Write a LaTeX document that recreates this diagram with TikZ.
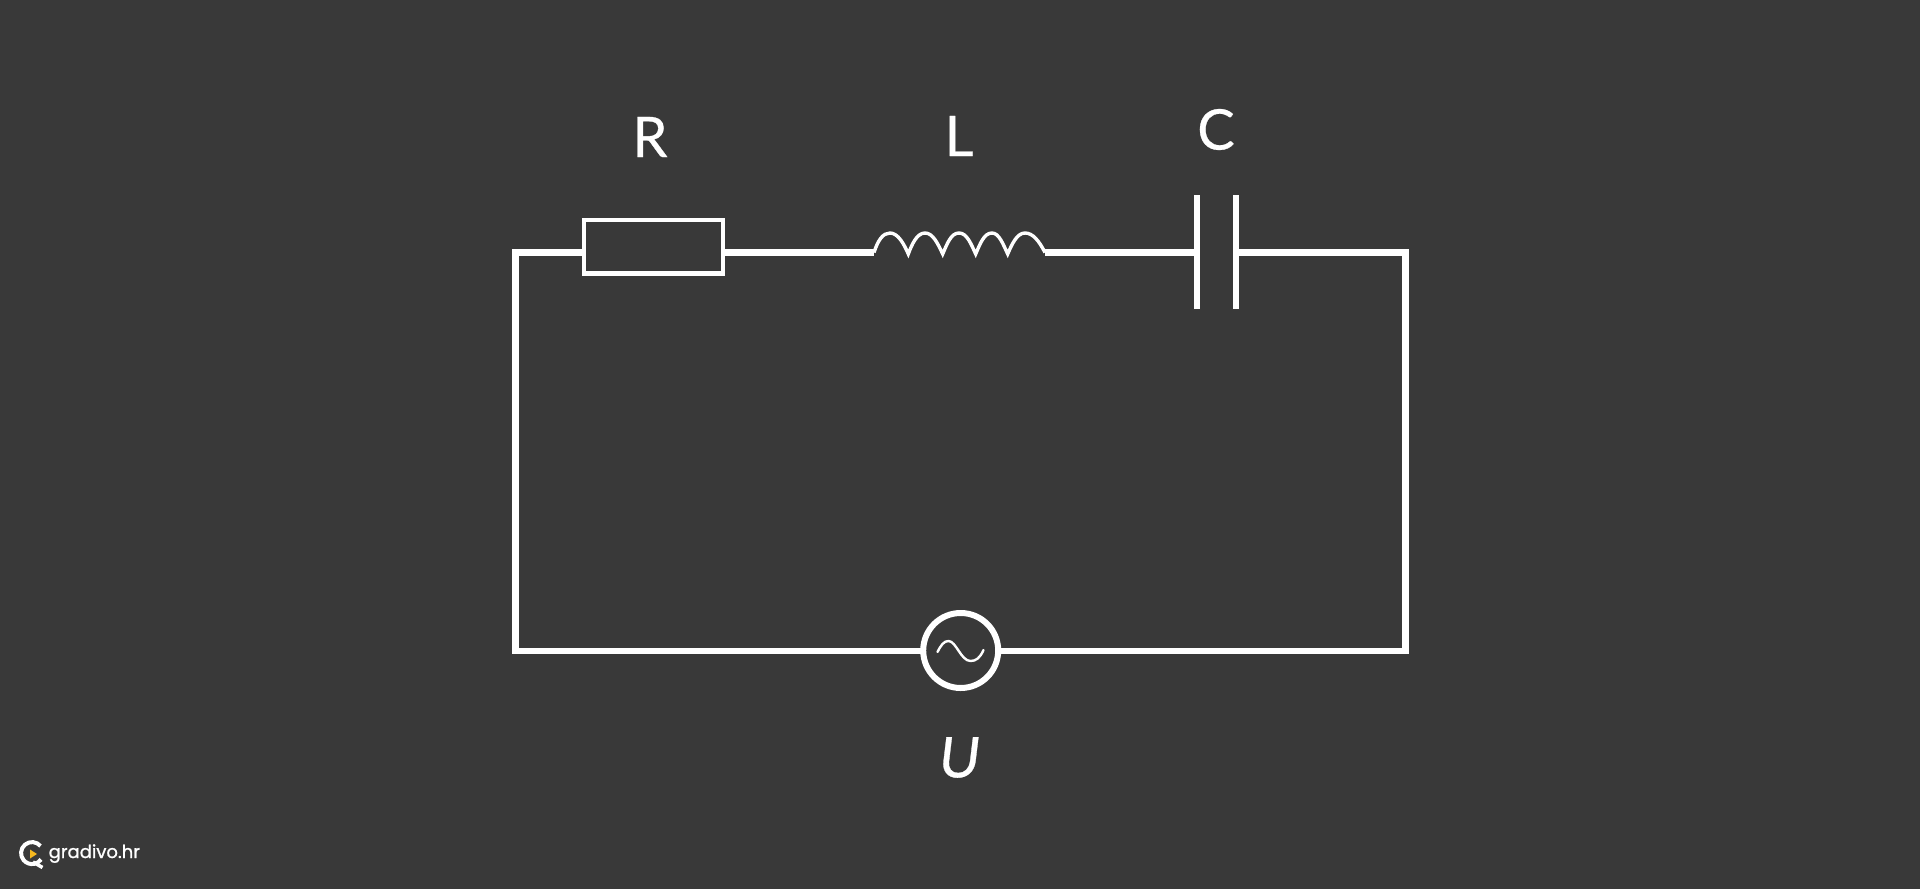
\documentclass[tikz,border=0pt]{standalone}
\usepackage{fontspec}
\newfontfamily\lab[FakeBold=0.5]{Lato}
\newfontfamily\logo[FakeBold=1.1]{Poppins}
\definecolor{bg}{HTML}{393939}
\definecolor{logoy}{HTML}{F5B81F}
\tikzset{
  wire/.style={draw=white,line width=6.3pt,miter limit=10},
  resbox/.style={draw=white,line width=4.4pt,rectangle,minimum width=139pt,minimum height=53.5pt,inner sep=0pt,outer sep=0pt},
  plate/.style={fill=white,rectangle,minimum width=6pt,minimum height=113.5pt,inner sep=0pt,outer sep=0pt},
  srccircle/.style={draw=white,line width=6pt,circle,minimum size=75pt,inner sep=0pt,outer sep=0pt},
  letter/.style={text=white,inner sep=0pt,outer sep=0pt,font=\lab\fontsize{56}{60}\selectfont},
  coil/.style={draw=white,line width=3.4pt,miter limit=10},
  sine/.style={draw=white,line width=2.4pt,line cap=round},
}
\begin{document}
\begin{tikzpicture}[x=1pt,y=-1pt]
\fill[bg] (0,0) rectangle (1920,889);
\useasboundingbox (0,0) rectangle (1920,889);
% corners and end points
\coordinate (tl) at (515.5,252.5);
\coordinate (tr) at (1405.5,252.5);
\coordinate (bl) at (515.5,651);
\coordinate (br) at (1405.5,651);
\coordinate (ls) at (874,252.5);
\coordinate (le) at (1045,252.5);
% components
\node[resbox] (res) at (653.5,246.7) {};
\node[plate] (c1) at (1197,252) {};
\node[plate] (c2) at (1236,252) {};
\node[srccircle] (src) at (960.7,650.5) {};
% coil
\draw[coil] (ls) .. controls (878,240) and (883,233) .. (890,233)
  .. controls (898,233) and (904,244) .. (908.3,254)
  .. controls (912,244) and (917,233) .. (925,233)
  .. controls (933,233) and (938,244) .. (942.7,254)
  .. controls (947,244) and (951,233) .. (959,233)
  .. controls (967,233) and (971,244) .. (975.7,254)
  .. controls (980,244) and (984,233) .. (992,233)
  .. controls (999,233) and (1003,244) .. (1007.7,254)
  .. controls (1012,244) and (1017,233) .. (1025,233)
  .. controls (1033,233) and (1039,241) .. (le);
% wires
\draw[wire] (tl -| res.west) -- (tl) -- (bl) -- (bl -| src.west);
\draw[wire] (tl -| res.east) -- (ls);
\draw[wire] (le) -- (tl -| c1.west);
\draw[wire] (tl -| c2.east) -- (tr) -- (br) -- (br -| src.east);
% sine inside source
\draw[sine] (937.5,652) .. controls (941,645) and (944,641) .. (948.5,641)
  .. controls (956,641) and (961,661) .. (970.5,661)
  .. controls (976,661) and (980,658) .. (983.5,650);
% labels
\node[letter] (lr) at (650,137) {R};
\node[letter] (ll) at (959,136) {L};
\node[letter] (lc) at (1216,129.5) {C};
\node[letter,xslant=0.12] (lu) at (960,757.5) {U};
% logo
\draw[white,line width=4pt] (40.5,846) arc[start angle=-40,end angle=-325,radius=11] coordinate (lg1);
\draw[white,line width=3.5pt] (33,862) coordinate (lg2) -- (42.5,867.5);
\fill[logoy] (30,849.5) -- (37,854) -- (30,858.5) -- cycle;
\node[text=white,anchor=base west,inner sep=0pt,font=\logo\fontsize{18}{22}\selectfont] (brand) at (48.5,858) {gradivo.hr};
\end{tikzpicture}
\end{document}
